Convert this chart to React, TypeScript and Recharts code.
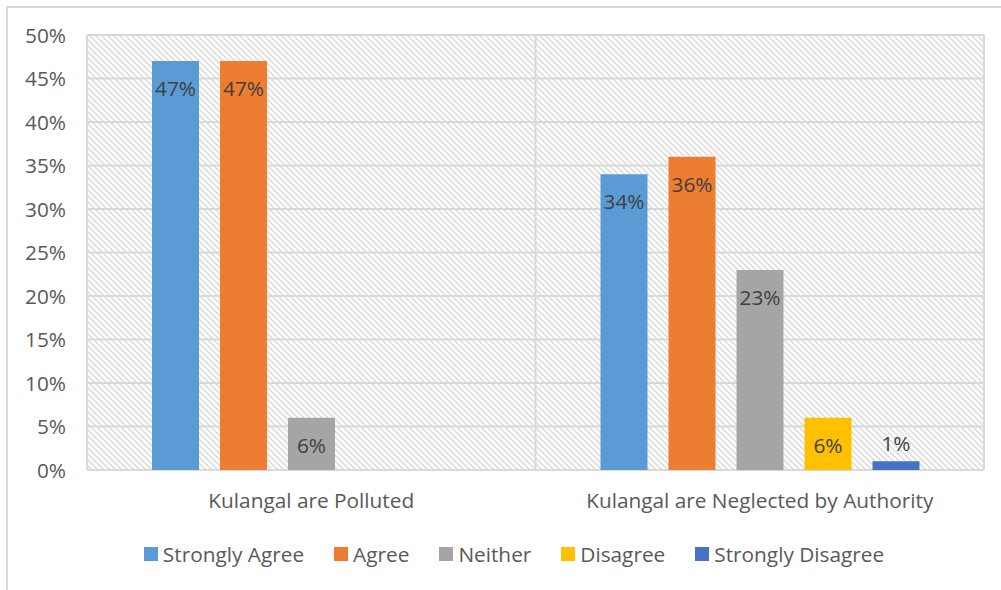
import React from 'react';
import { BarChart, Bar, XAxis, YAxis, CartesianGrid, Legend, LabelList } from 'recharts';

const categories = ['Kulangal are Polluted', 'Kulangal are Neglected by Authority'];
const stronglyAgree = [47, 34];
const agree = [47, 36];
const neither = [6, 23];
const disagree: (number | null)[] = [null, 6];
const stronglyDisagree: (number | null)[] = [null, 1];
const yTicks = [0, 5, 10, 15, 20, 25, 30, 35, 40, 45, 50];
const seriesNames = ['Strongly Agree', 'Agree', 'Neither', 'Disagree', 'Strongly Disagree'];
const seriesKeys = ['sa', 'ag', 'ne', 'di', 'sd'];
const seriesColors = ['#5B9BD5', '#ED7D31', '#A5A5A5', '#FFC000', '#4472C4'];

const data = categories.map((c, i) => ({
  category: c,
  sa: stronglyAgree[i],
  ag: agree[i],
  ne: neither[i],
  di: disagree[i],
  sd: stronglyDisagree[i],
}));

const FONT = '"Open Sans", sans-serif';
const TEXT = '#595959';
const FS = 20.8;

const renderLabel = (props: any) => {
  const { x, y, width, height, value } = props;
  if (value == null || value === 0) return null;
  const inside = Number(height) > 30;
  return (
    <text
      x={Number(x) + Number(width) / 2}
      y={inside ? Number(y) + 35 : Number(y) - 10}
      textAnchor="middle"
      fill="#404040"
      fontSize={FS}
      fontFamily={FONT}
    >
      {value}%
    </text>
  );
};

const YTick = (props: any) => {
  const { x, y, payload } = props;
  return (
    <text x={x} y={Number(y) + 7.5} textAnchor="end" fill={TEXT} fontSize={FS} fontFamily={FONT}>
      {payload.value}%
    </text>
  );
};

const XTick = (props: any) => {
  const { x, y, payload } = props;
  return (
    <text x={x} y={Number(y) + 38} textAnchor="middle" fill={TEXT} fontSize={FS} fontFamily={FONT}>
      {payload.value}
    </text>
  );
};

const renderLegend = (props: any) => {
  const payload = [...(props.payload || [])].sort(
    (a: any, b: any) => seriesNames.indexOf(a.value) - seriesNames.indexOf(b.value)
  );
  return (
    <div
      style={{
        display: 'flex',
        justifyContent: 'center',
        alignItems: 'center',
        height: 40,
        paddingLeft: 37,
        fontFamily: FONT,
        fontSize: FS,
        color: TEXT,
        boxSizing: 'border-box',
      }}
    >
      {payload.map((entry: any, i: number) => (
        <div
          key={i}
          style={{ display: 'flex', alignItems: 'center', marginRight: i < payload.length - 1 ? 30 : 0 }}
        >
          <span
            style={{ display: 'inline-block', width: 14, height: 14, background: entry.color, marginRight: 5 }}
          />
          <span>{entry.value}</span>
        </div>
      ))}
    </div>
  );
};

const verticalLines = ({ offset }: any) => [
  offset.left,
  offset.left + offset.width / 2,
  offset.left + offset.width,
];

export default function App() {
  return (
    <div style={{ position: 'absolute', left: 0, top: 0, width: 1001, height: 590, background: '#fff' }}>
      <div
        style={{
          position: 'absolute',
          left: 6,
          top: 6,
          width: 995,
          height: 584,
          borderLeft: '2px solid #D9D9D9',
          borderTop: '2px solid #D9D9D9',
          boxSizing: 'border-box',
        }}
      />
      <div style={{ position: 'absolute', left: 0, top: 0 }}>
        <BarChart
          width={1001}
          height={590}
          data={data}
          margin={{ top: 35, right: 17, bottom: 16, left: 7 }}
          barSize={47}
          barGap={21}
        >
          <defs>
            <pattern id="hatch" width="6" height="6" patternUnits="userSpaceOnUse">
              <rect width="6" height="6" fill="#ffffff" />
              <path d="M0,0 L6,6 M-1,5 L1,7 M5,-1 L7,1" stroke="#DADADA" strokeWidth={1.5} />
            </pattern>
          </defs>
          <CartesianGrid
            fill="url(#hatch)"
            stroke="#D9D9D9"
            strokeWidth={2}
            verticalCoordinatesGenerator={verticalLines}
          />
          <XAxis
            dataKey="category"
            axisLine={false}
            tickLine={false}
            tickSize={0}
            tickMargin={0}
            height={64}
            tick={<XTick />}
            interval={0}
          />
          <YAxis
            domain={[0, 50]}
            ticks={yTicks}
            axisLine={false}
            tickLine={false}
            tickSize={0}
            tickMargin={21}
            width={80}
            tick={<YTick />}
            interval={0}
          />
          <Legend
            verticalAlign="bottom"
            height={40}
            content={renderLegend}
            wrapperStyle={{ height: 40 }}
            itemSorter={null as any}
          />
          {seriesKeys.map((k, i) => (
            <Bar key={k} dataKey={k} name={seriesNames[i]} fill={seriesColors[i]} isAnimationActive={false}>
              <LabelList dataKey={k} content={renderLabel} />
            </Bar>
          ))}
        </BarChart>
      </div>
    </div>
  );
}
